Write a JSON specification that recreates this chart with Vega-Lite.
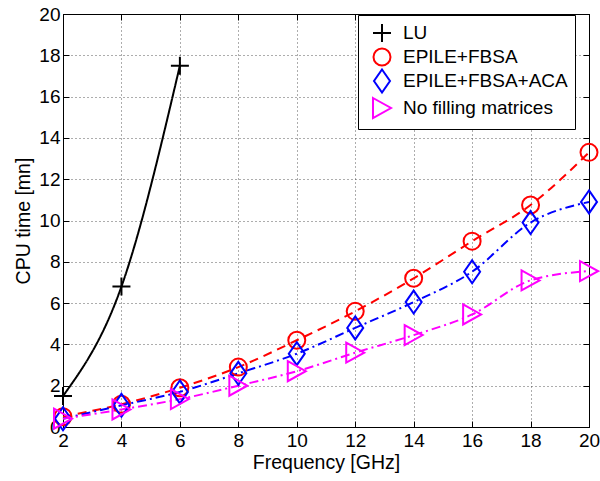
{
  "$schema": "https://vega.github.io/schema/vega-lite/v6.json",
  "width": 526,
  "height": 413,
  "autosize": {"type": "none"},
  "padding": {"left": 63, "top": 14, "right": 11, "bottom": 54},
  "background": "white",
  "config": {
    "view": {"stroke": "black", "strokeWidth": 1},
    "font": "Liberation Sans",
    "axis": {
      "domainColor": "black",
      "tickColor": "black",
      "labelColor": "black",
      "titleColor": "black",
      "labelFont": "Liberation Sans",
      "titleFont": "Liberation Sans",
      "labelFontSize": 19,
      "titleFontSize": 19.5,
      "titleFontWeight": "normal",
      "gridColor": "#333333",
      "gridDash": [1, 3],
      "gridOpacity": 0.8,
      "tickSize": -6
    },
    "legend": {
      "labelFont": "Liberation Sans",
      "labelFontSize": 19,
      "labelColor": "black",
      "labelLimit": 300
    }
  },
  "data": {
    "values": [
      {"series": "LU", "freq": 2, "time": 1.5},
      {"series": "LU", "freq": 4, "time": 6.8},
      {"series": "LU", "freq": 6, "time": 17.5},
      {"series": "EPILE+FBSA", "freq": 2, "time": 0.5},
      {"series": "EPILE+FBSA", "freq": 4, "time": 1.1},
      {"series": "EPILE+FBSA", "freq": 6, "time": 1.9},
      {"series": "EPILE+FBSA", "freq": 8, "time": 2.9},
      {"series": "EPILE+FBSA", "freq": 10, "time": 4.2},
      {"series": "EPILE+FBSA", "freq": 12, "time": 5.6},
      {"series": "EPILE+FBSA", "freq": 14, "time": 7.2},
      {"series": "EPILE+FBSA", "freq": 16, "time": 9.0},
      {"series": "EPILE+FBSA", "freq": 18, "time": 10.75},
      {"series": "EPILE+FBSA", "freq": 20, "time": 13.3},
      {"series": "EPILE+FBSA+ACA", "freq": 2, "time": 0.4},
      {"series": "EPILE+FBSA+ACA", "freq": 4, "time": 1.05},
      {"series": "EPILE+FBSA+ACA", "freq": 6, "time": 1.7},
      {"series": "EPILE+FBSA+ACA", "freq": 8, "time": 2.6},
      {"series": "EPILE+FBSA+ACA", "freq": 10, "time": 3.55},
      {"series": "EPILE+FBSA+ACA", "freq": 12, "time": 4.8},
      {"series": "EPILE+FBSA+ACA", "freq": 14, "time": 6.05},
      {"series": "EPILE+FBSA+ACA", "freq": 16, "time": 7.52},
      {"series": "EPILE+FBSA+ACA", "freq": 18, "time": 9.9},
      {"series": "EPILE+FBSA+ACA", "freq": 20, "time": 10.9},
      {"series": "No filling matrices", "freq": 2, "time": 0.4},
      {"series": "No filling matrices", "freq": 4, "time": 0.85},
      {"series": "No filling matrices", "freq": 6, "time": 1.35},
      {"series": "No filling matrices", "freq": 8, "time": 2.0},
      {"series": "No filling matrices", "freq": 10, "time": 2.7},
      {"series": "No filling matrices", "freq": 12, "time": 3.6},
      {"series": "No filling matrices", "freq": 14, "time": 4.45},
      {"series": "No filling matrices", "freq": 16, "time": 5.45},
      {"series": "No filling matrices", "freq": 18, "time": 7.1},
      {"series": "No filling matrices", "freq": 20, "time": 7.55}
    ]
  },
  "layer": [
    {
      "mark": {"type": "line", "interpolate": "monotone", "strokeWidth": 2},
      "encoding": {
        "x": {"field": "freq", "type": "quantitative", "scale": {"domain": [2, 20], "nice": false, "zero": false},
              "axis": {"orient": "bottom", "title": "Frequency [GHz]", "values": [2,4,6,8,10,12,14,16,18,20], "grid": true, "labelPadding": 10, "titlePadding": 3, "labelFlush": false}},
        "y": {"field": "time", "type": "quantitative", "scale": {"domain": [0, 20], "nice": false},
              "axis": {"orient": "left", "title": "CPU time [mn]", "values": [0,2,4,6,8,10,12,14,16,18,20], "grid": true, "labelPadding": 9, "titlePadding": 5, "labelFlush": false}},
        "detail": {"field": "series", "type": "nominal"},
        "color": {"condition": [
            {"test": "datum.series === 'LU'", "value": "#000000"},
            {"test": "datum.series === 'EPILE+FBSA'", "value": "#ff0000"},
            {"test": "datum.series === 'EPILE+FBSA+ACA'", "value": "#0000ff"}
          ], "value": "#ff00ff"},
        "strokeDash": {"condition": [
            {"test": "datum.series === 'LU'", "value": [1, 0]},
            {"test": "datum.series === 'EPILE+FBSA'", "value": [9, 6]}
          ], "value": [9, 4, 2, 4]}
      }
    },
    {
      "mark": {"type": "point", "filled": false, "strokeWidth": 2, "size": 400, "opacity": 1},
      "encoding": {
        "x": {"field": "freq", "type": "quantitative", "axis": null},
        "y": {"field": "time", "type": "quantitative", "axis": null},
        "color": {"field": "series", "type": "nominal",
          "scale": {"domain": ["LU", "EPILE+FBSA", "EPILE+FBSA+ACA", "No filling matrices"], "range": ["#000000", "#ff0000", "#0000ff", "#ff00ff"]},
          "legend": {
            "orient": "none", "legendX": 295, "legendY": 1, "title": null,
            "strokeColor": "black", "fillColor": "white", "padding": 7,
            "symbolSize": 400, "symbolOffset": 6, "labelOffset": 10, "rowPadding": -6,
            "symbolStrokeWidth": 2, "symbolFillColor": "transparent", "labelLimit": 300
          }},
        "shape": {"field": "series", "type": "nominal",
          "scale": {"domain": ["LU", "EPILE+FBSA", "EPILE+FBSA+ACA", "No filling matrices"],
                    "range": ["M-0.9,0H0.9M0,-0.9V0.9", "M-0.85,0A0.85,0.85 0 1,0 0.85,0A0.85,0.85 0 1,0 -0.85,0", "M0,-1.15L0.8,0L0,1.15L-0.8,0Z", "M-0.9,-1L0.9,0L-0.9,1Z"]},
          "legend": null}
      }
    },
    {
      "mark": {"type": "point", "opacity": 0},
      "encoding": {
        "x": {"field": "freq", "type": "quantitative",
              "axis": {"orient": "top", "labels": false, "title": null, "grid": false, "values": [2,4,6,8,10,12,14,16,18,20]}},
        "y": {"field": "time", "type": "quantitative",
              "axis": {"orient": "right", "labels": false, "title": null, "grid": false, "values": [0,2,4,6,8,10,12,14,16,18,20]}}
      }
    }
  ],
  "resolve": {"axis": {"x": "independent", "y": "independent"}}
}
